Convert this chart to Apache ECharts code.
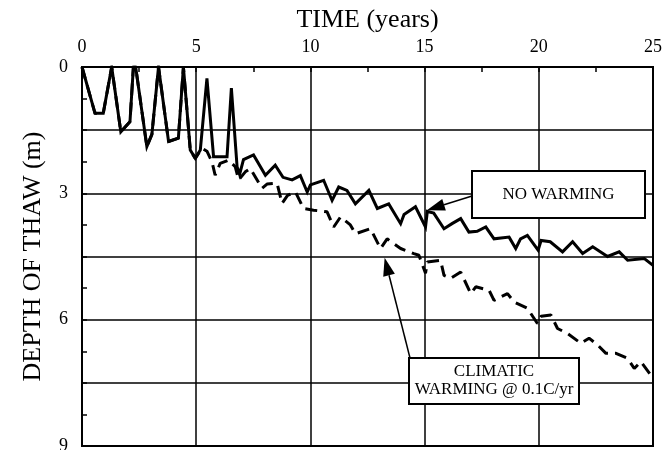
<!DOCTYPE html>
<html>
<head>
<meta charset="utf-8">
<script src="https://cdn.jsdelivr.net/npm/echarts@6/dist/echarts.min.js"></script>
<style>html,body{margin:0;padding:0;background:#fff;}#c{width:663px;height:450px;}</style>
</head>
<body>
<div id="c"></div>
<script>
// ---- data (years, metres) ----
const timeNoWarm = [0,0.57,0.93,1.3,1.37,1.7,2.1,2.25,2.35,2.84,3.06,3.35,3.42,3.79,4.22,4.44,4.5,4.74,4.96,5.18,5.47,5.76,6.35,6.54,6.79,6.9,7.07,7.51,8.03,8.46,8.8,9.2,9.56,9.86,10.0,10.58,10.95,11.24,11.6,11.97,12.56,12.93,13.43,13.95,14.1,14.6,15.04,15.12,15.4,15.85,16.2,16.58,16.94,17.3,17.68,18.04,18.7,18.99,19.2,19.5,19.97,20.1,20.5,21.04,21.48,21.92,22.36,23.01,23.52,23.89,24.62,25];
const depthNoWarm = [0,1.1,1.1,0,0,1.54,1.3,0,0,1.89,1.6,0,0,1.77,1.69,0,0,1.97,2.17,1.97,0.27,2.13,2.13,0.5,2.37,2.55,2.2,2.09,2.57,2.33,2.62,2.68,2.58,2.97,2.8,2.69,3.17,2.85,2.93,3.25,2.93,3.36,3.25,3.72,3.5,3.32,3.8,3.43,3.47,3.84,3.72,3.6,3.92,3.9,3.8,4.08,4.04,4.31,4.08,4.0,4.35,4.12,4.15,4.39,4.15,4.43,4.27,4.5,4.39,4.59,4.55,4.71];
const timeWarm = [0,0.57,0.93,1.3,1.37,1.7,2.1,2.25,2.35,2.84,3.06,3.35,3.42,3.79,4.22,4.44,4.5,4.74,4.96,5.25,5.47,5.69,5.83,6.05,6.42,6.71,6.86,7.15,7.37,7.88,8.1,8.54,8.76,9.0,9.34,9.7,10.14,10.73,11.02,11.32,11.75,11.97,12.63,13.07,13.36,13.95,14.53,14.75,15.04,15.12,15.7,15.85,16.14,16.58,17.02,17.24,17.82,18.04,18.63,18.92,19.5,19.94,20.1,20.53,20.82,21.26,21.84,22.2,22.57,22.94,23.38,23.89,24.18,24.47,24.84,25];
const depthWarm = [0,1.1,1.1,0,0,1.54,1.3,0,0,1.89,1.6,0,0,1.77,1.69,0,0,1.97,2.17,1.93,2.0,2.25,2.57,2.29,2.21,2.37,2.68,2.49,2.41,2.88,2.78,2.76,3.24,3.05,2.96,3.36,3.4,3.44,3.8,3.56,3.75,3.96,3.84,4.31,4.08,4.31,4.43,4.47,4.9,4.63,4.59,4.95,5.02,4.87,5.38,5.22,5.3,5.54,5.38,5.58,5.73,6.09,5.92,5.89,6.21,6.33,6.56,6.44,6.6,6.8,6.8,6.92,7.16,7.0,7.27,7.4];
const xTitle = 'TIME (years)';
const yTitle = 'DEPTH OF THAW (m)';
const noWarmLabel = ['NO WARMING'];
const warmLabel = ['CLIMATIC', 'WARMING @ 0.1C/yr'];
const noWarmArrowTip = [15.1, 3.4];
const warmArrowTip = [13.25, 4.53];

const FONT = '"Liberation Serif", "Times New Roman", serif';
const zip = (a, b) => a.map((v, i) => [v, b[i]]);

const chart = echarts.init(document.getElementById('c'), null, {renderer: 'canvas'});
chart.setOption({
  backgroundColor: '#fff',
  animation: false,
  grid: {left: 82, right: 10, top: 67, bottom: 4, containLabel: false, outerBoundsMode: 'none',
         show: true, borderColor: '#000', borderWidth: 2, backgroundColor: 'transparent'},
  xAxis: {
    type: 'value', position: 'top', min: 0, max: 25, interval: 5,
    name: xTitle, nameLocation: 'middle', nameGap: 34,
    nameTextStyle: {fontFamily: FONT, fontSize: 26, color: '#000'},
    axisLine: {lineStyle: {color: '#000', width: 2}},
    axisTick: {show: true, inside: true, length: 5, lineStyle: {color: '#000', width: 1.5}},
    minorTick: {show: true, splitNumber: 2, length: 5, lineStyle: {color: '#000', width: 1.5}},
    axisLabel: {fontFamily: FONT, fontSize: 18, color: '#000', margin: 11},
    splitLine: {show: true, lineStyle: {color: '#000', width: 1.5}}
  },
  yAxis: {
    type: 'value', inverse: true, min: 0, max: 9, interval: 1.5,
    name: yTitle, nameLocation: 'middle', nameGap: 36,
    nameTextStyle: {fontFamily: FONT, fontSize: 26, color: '#000'},
    axisLine: {lineStyle: {color: '#000', width: 2}},
    axisTick: {show: true, inside: true, length: 5, lineStyle: {color: '#000', width: 1.5}},
    minorTick: {show: true, splitNumber: 2, length: 5, lineStyle: {color: '#000', width: 1.5}},
    axisLabel: {fontFamily: FONT, fontSize: 18, color: '#000', margin: 14,
      formatter: v => (Math.abs(v % 3) < 1e-9 ? String(v) : '')},
    splitLine: {show: true, lineStyle: {color: '#000', width: 1.5}}
  },
  series: [
    {name: 'No warming', type: 'line', data: zip(timeNoWarm, depthNoWarm), symbol: 'none',
     lineStyle: {color: '#000', width: 3, join: 'miter'}, z: 3},
    {name: 'Climatic warming', type: 'line', data: zip(timeWarm, depthWarm), symbol: 'none',
     lineStyle: {color: '#000', width: 3, type: [12, 7]}, z: 3}
  ]
});

function arrow(from, to) {
  const dx = to[0] - from[0], dy = to[1] - from[1];
  const L = Math.hypot(dx, dy), ux = dx / L, uy = dy / L;
  const hl = 18, hw = 6;
  const bx = to[0] - ux * hl, by = to[1] - uy * hl;
  const px = -uy, py = ux;
  return [
    {type: 'line', z: 10, shape: {x1: from[0], y1: from[1], x2: bx, y2: by}, style: {stroke: '#000', lineWidth: 1.5}},
    {type: 'polygon', z: 10, shape: {points: [to, [bx + px * hw, by + py * hw], [bx - px * hw, by - py * hw]]}, style: {fill: '#000'}}
  ];
}
function box(x, y, w, h, lines) {
  const els = [{type: 'rect', z: 10, shape: {x: x, y: y, width: w, height: h}, style: {fill: '#fff', stroke: '#000', lineWidth: 2}}];
  const lh = 18, y0 = y + h / 2 - (lines.length - 1) * lh / 2;
  lines.forEach((t, i) => els.push({type: 'text', z: 11, style: {text: t, x: x + w / 2, y: y0 + i * lh, align: 'center', verticalAlign: 'middle', font: '17px ' + FONT, fill: '#000'}}));
  return els;
}
const tip1 = chart.convertToPixel({gridIndex: 0}, noWarmArrowTip);
const tip2 = chart.convertToPixel({gridIndex: 0}, warmArrowTip);
chart.setOption({
  graphic: [].concat(
    box(472, 171, 173, 47, noWarmLabel),
    arrow([472, 196], tip1),
    box(409, 358, 170, 46, warmLabel),
    arrow([410, 358], tip2)
  )
});
</script>
</body>
</html>
